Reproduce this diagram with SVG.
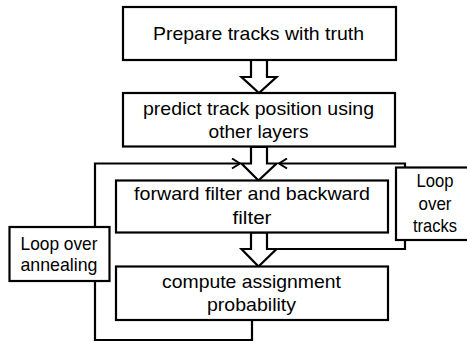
<svg xmlns="http://www.w3.org/2000/svg" width="467" height="342" viewBox="0 0 467 342">
<defs>
<marker id="chev" viewBox="0 0 10 12" refX="9" refY="6" markerWidth="10" markerHeight="12" markerUnits="userSpaceOnUse" orient="auto">
<path d="M1,1 L9,6 L1,11" fill="none" stroke="#000" stroke-width="2"/>
</marker>
<style>
.box{fill:#fff;stroke:#000;stroke-width:2.2}
.blk{fill:#fff;stroke:#000;stroke-width:2.2;stroke-linejoin:miter}
.ln{fill:none;stroke:#000;stroke-width:2.2}
text{font-family:"Liberation Sans",Arial,sans-serif;font-size:19px;fill:#000;text-anchor:middle}
</style>
</defs>
<rect width="467" height="342" fill="#fff"/>
<g id="connectors">
<polygon class="blk" points="251,60 251,77 241.5,77 259,93 276.5,77 267,77 267,60"/>
<polygon class="blk" points="251,147 251,163.5 241.5,163.5 258.5,180.5 276.5,163.5 267,163.5 267,147"/>
<polygon class="blk" points="251,232.5 251,249 241.5,249 258.5,266.5 276.5,249 267,249 267,232.5"/>
<polyline class="ln" points="267,249 405,249 405,163.5 279,163.5" marker-end="url(#chev)"/>
<polyline class="ln" points="252,320 252,340 95,340 95,163.5 240,163.5" marker-end="url(#chev)"/>
</g>
<g id="prepare">
<rect class="box" x="123" y="7" width="273" height="53"/>
<text x="258.5" y="40" textLength="211" lengthAdjust="spacingAndGlyphs">Prepare tracks with truth</text>
</g>
<g id="predict">
<rect class="box" x="123" y="93" width="272" height="53.5"/>
<text x="258.5" y="115" textLength="231" lengthAdjust="spacingAndGlyphs">predict track position using</text>
<text x="258.5" y="138" textLength="100" lengthAdjust="spacingAndGlyphs">other layers</text>
</g>
<g id="filter">
<rect class="box" x="116" y="180.5" width="272" height="52"/>
<text x="252" y="200" textLength="236" lengthAdjust="spacingAndGlyphs">forward filter and backward</text>
<text x="252" y="224" textLength="39" lengthAdjust="spacingAndGlyphs">filter</text>
</g>
<g id="compute">
<rect class="box" x="116" y="266.5" width="272" height="53.5"/>
<text x="251.5" y="287.5" textLength="179" lengthAdjust="spacingAndGlyphs">compute assignment</text>
<text x="251.5" y="310.5" textLength="89" lengthAdjust="spacingAndGlyphs">probability</text>
</g>
<g id="loop-tracks">
<rect class="box" x="396" y="167.5" width="80" height="72.5"/>
<text x="435" y="186.5" textLength="37" lengthAdjust="spacingAndGlyphs">Loop</text>
<text x="435" y="209.5" textLength="33" lengthAdjust="spacingAndGlyphs">over</text>
<text x="435" y="232" textLength="44" lengthAdjust="spacingAndGlyphs">tracks</text>
</g>
<g id="loop-annealing">
<rect class="box" x="9.5" y="227" width="100" height="54"/>
<text x="59" y="249.5" textLength="77" lengthAdjust="spacingAndGlyphs">Loop over</text>
<text x="59" y="270.5" textLength="77" lengthAdjust="spacingAndGlyphs">annealing</text>
</g>
</svg>
